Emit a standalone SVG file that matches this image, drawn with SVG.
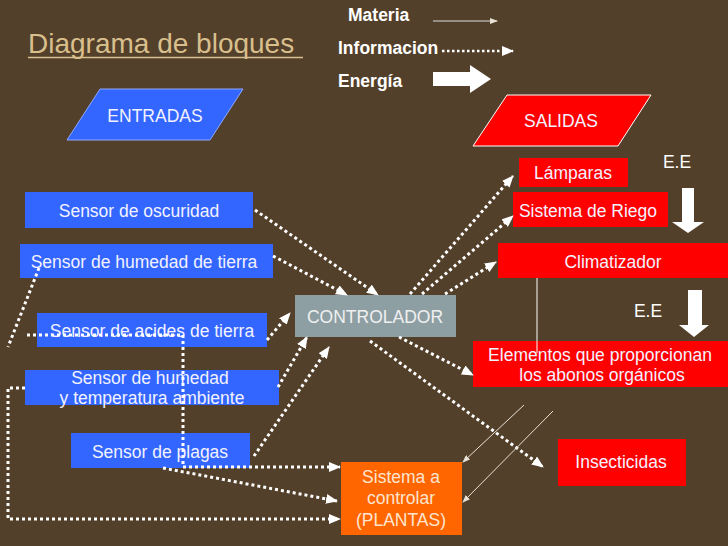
<svg xmlns="http://www.w3.org/2000/svg" width="728" height="546" viewBox="0 0 728 546">
<defs>
<style>
text{font-family:"Liberation Sans",Arial,sans-serif;font-size:17.5px;text-anchor:middle}
.w{fill:#f2f2ff}
.leg{font-weight:bold;fill:#fff;text-anchor:start}
.blue{fill:#3366ff}
.red{fill:#ff0000}
.dot{fill:none;stroke:#fff;stroke-width:3;stroke-dasharray:3 3}
.thin{fill:none;stroke:#e8e2d6;stroke-width:1}
</style>
<marker id="ah" markerWidth="12" markerHeight="10" refX="11" refY="5" orient="auto" markerUnits="userSpaceOnUse"><path d="M0,0 L12,5 L0,10 z" fill="#fff"/></marker>
<marker id="sh" markerWidth="8" markerHeight="6" refX="7" refY="3" orient="auto" markerUnits="userSpaceOnUse"><path d="M0,0 L8,3 L0,6 z" fill="#e8e2d6"/></marker>
</defs>
<rect width="728" height="546" fill="#53402b"/>

<g id="title">
<text x="28" y="53" style="font-size:28px;text-anchor:start;fill:#d8bf8c">Diagrama de bloques</text>
<line x1="28" y1="57.5" x2="303" y2="57.5" stroke="#d8bf8c" stroke-width="1.5"/>
</g>

<g id="legend">
<text class="leg" x="348" y="21">Materia</text>
<line x1="433" y1="21" x2="497" y2="21" stroke="#ddd" stroke-width="1" marker-end="url(#sh)"/>
<text class="leg" x="338" y="54">Informacion</text>
<line x1="442" y1="51" x2="513" y2="51" stroke="#fff" stroke-width="2.5" stroke-dasharray="2.5 2.5" marker-end="url(#ah)"/>
<text class="leg" x="338" y="87">Energía</text>
<path d="M433,72 L470,72 L470,65 L491,79 L470,93 L470,86 L433,86 z" fill="#fff"/>
</g>

<g id="entradas">
<path d="M100,89 L243,89 L210,140 L67,140 z" class="blue" stroke="#8fa8ff" stroke-width="1"/>
<text class="w" x="155" y="122">ENTRADAS</text>
</g>
<g id="salidas">
<path d="M507,95 L651,95 L618,146 L473,146 z" class="red" stroke="#fff" stroke-width="1"/>
<text class="w" x="561" y="127">SALIDAS</text>
</g>

<g id="sensor-oscuridad">
<rect x="25" y="192" width="228" height="36" class="blue"/>
<text class="w" x="139" y="217">Sensor de oscuridad</text>
</g>
<g id="sensor-humedad-tierra">
<rect x="20" y="244" width="253" height="34" class="blue"/>
<text class="w" x="144" y="268">Sensor de humedad de tierra</text>
</g>
<g id="sensor-acides">
<rect x="37" y="313" width="230" height="34" class="blue"/>
<text class="w" x="152" y="337">Sensor de acides de tierra</text>
</g>
<g id="sensor-humedad-temp">
<rect x="25" y="370" width="254" height="35" class="blue"/>
<text class="w" x="150" y="384">Sensor de humedad</text>
<text class="w" x="152" y="404">y temperatura ambiente</text>
</g>
<g id="sensor-plagas">
<rect x="71" y="433" width="179" height="35" class="blue"/>
<text class="w" x="160" y="458">Sensor de plagas</text>
</g>

<g id="controlador">
<rect x="295" y="295" width="161" height="42" fill="#8d9fa3"/>
<text x="375" y="323" fill="#f0f0f0">CONTROLADOR</text>
</g>

<g id="lamparas">
<rect x="519" y="158" width="109" height="29" class="red"/>
<text class="w" x="573" y="179">Lámparas</text>
</g>
<g id="riego">
<rect x="513" y="192" width="155" height="35" class="red"/>
<text class="w" x="588" y="217">Sistema de Riego</text>
</g>
<g id="climatizador">
<rect x="498" y="243" width="230" height="35" class="red"/>
<text class="w" x="613" y="268">Climatizador</text>
</g>
<g id="elementos">
<rect x="473" y="341" width="255" height="46" class="red"/>
<text class="w" x="600" y="361">Elementos que proporcionan</text>
<text class="w" x="602" y="381">los abonos orgánicos</text>
</g>
<g id="insecticidas">
<rect x="558" y="439" width="128" height="47" class="red"/>
<text class="w" x="621" y="468">Insecticidas</text>
</g>
<g id="plantas">
<rect x="341" y="462" width="121" height="73" fill="#ff6600"/>
<text x="401" y="483" fill="#fde4cf">Sistema a</text>
<text x="401" y="504" fill="#fde4cf">controlar</text>
<text x="401" y="526" fill="#fde4cf">(PLANTAS)</text>
</g>

<g id="energia">
<text x="677" y="168" fill="#fff">E.E</text>
<path d="M682,188 L694,188 L694,222 L704,222 L688,233 L672,222 L682,222 z" fill="#fff"/>
<text x="648" y="317" fill="#fff">E.E</text>
<path d="M688,290 L702,290 L702,325 L709,325 L694,337 L679,325 L688,325 z" fill="#fff"/>
</g>

<g id="connectors">
<line class="dot" x1="255" y1="210" x2="378" y2="295" marker-end="url(#ah)"/>
<line class="dot" x1="273" y1="256" x2="347" y2="295" marker-end="url(#ah)"/>
<line class="dot" x1="267" y1="340" x2="290" y2="313" marker-end="url(#ah)"/>
<line class="dot" x1="278" y1="387" x2="307" y2="337" marker-end="url(#ah)"/>
<line class="dot" x1="254" y1="456" x2="329" y2="347" marker-end="url(#ah)"/>
<line class="dot" x1="410" y1="294" x2="513" y2="176" marker-end="url(#ah)"/>
<line class="dot" x1="422" y1="294" x2="513" y2="216" marker-end="url(#ah)"/>
<line class="dot" x1="445" y1="294" x2="496" y2="262" marker-end="url(#ah)"/>
<line class="dot" x1="399" y1="337" x2="473" y2="375" marker-end="url(#ah)"/>
<line class="dot" x1="370" y1="341" x2="543" y2="467" marker-end="url(#ah)"/>
<line class="dot" x1="39" y1="268" x2="8" y2="347"/>
<path class="dot" d="M27,335 L183,335 L183,467 L340,467" marker-end="url(#ah)"/>
<path class="dot" d="M163,468 L337,501" marker-end="url(#ah)"/>
<path class="dot" d="M25,388 L8,388 L8,519 L340,519" marker-end="url(#ah)"/>
<line x1="537" y1="278" x2="537" y2="353" stroke="#fff" stroke-width="1"/>
<line class="thin" x1="524" y1="405" x2="463" y2="462" marker-end="url(#sh)"/>
<line class="thin" x1="553" y1="411" x2="463" y2="502" marker-end="url(#sh)"/>
</g>
</svg>
